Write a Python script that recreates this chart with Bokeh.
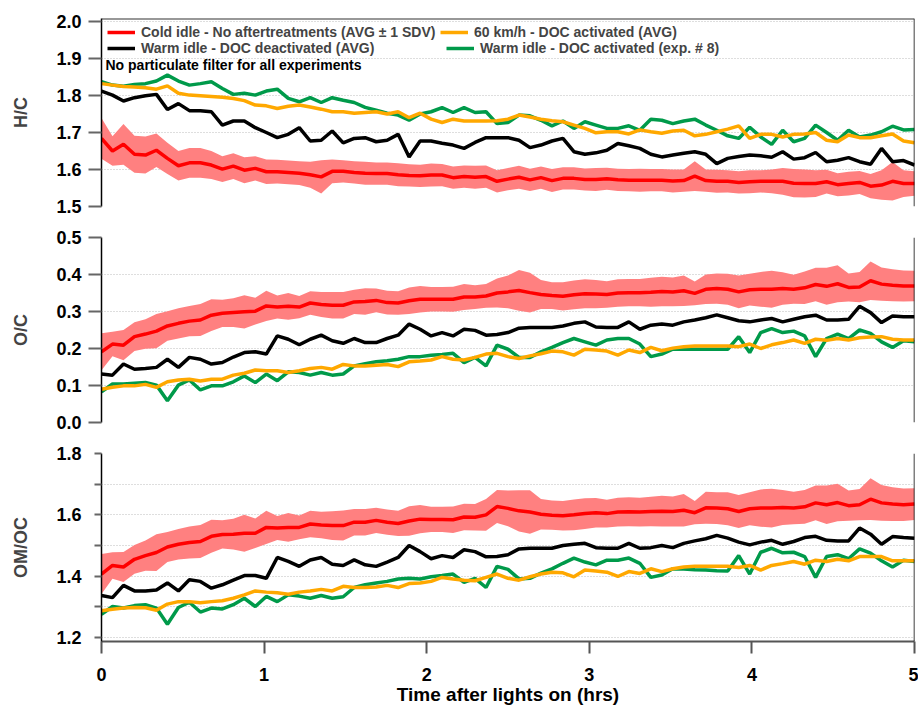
import numpy as np
from bokeh.plotting import figure
from bokeh.models import Range1d, FixedTicker, PrintfTickFormatter, Span, Label, Legend, LegendItem
from bokeh.layouts import column
from bokeh.embed import file_html
from bokeh.resources import INLINE

# ---------------- data ----------------
time_hrs = np.linspace(0, 5, 75)

hc_cold = [1.684,1.650,1.668,1.641,1.639,1.652,1.630,1.610,1.618,1.618,
           1.612,1.601,1.609,1.598,1.603,1.594,1.594,1.592,1.590,1.586,
           1.580,1.595,1.595,1.592,1.590,1.589,1.589,1.586,1.584,1.583,
           1.585,1.585,1.578,1.581,1.579,1.581,1.568,1.574,1.579,1.572,
           1.578,1.570,1.576,1.576,1.573,1.573,1.575,1.572,1.571,1.571,
           1.571,1.571,1.569,1.570,1.582,1.570,1.568,1.568,1.565,1.567,
           1.568,1.568,1.568,1.563,1.562,1.562,1.567,1.559,1.562,1.565,
           1.555,1.558,1.568,1.562,1.562]
hc_cold_sd = [.055,.040,.055,.050,.050,.045,.042,.040,.040,.040,
              .038,.035,.035,.035,.033,.033,.032,.032,.032,.035,
              .045,.032,.030,.030,.031,.030,.030,.031,.030,.030,
              .031,.030,.030,.030,.031,.030,.030,.030,.031,.030,
              .030,.031,.030,.030,.030,.031,.030,.030,.030,.031,
              .030,.030,.031,.030,.040,.030,.031,.030,.030,.031,
              .030,.032,.036,.038,.038,.036,.032,.031,.032,.031,
              .033,.040,.052,.036,.033]
hc_warm_deact = [1.812,1.801,1.785,1.794,1.799,1.803,1.762,1.778,1.759,1.759,
                 1.756,1.720,1.731,1.731,1.713,1.700,1.686,1.695,1.713,1.677,
                 1.679,1.704,1.672,1.684,1.686,1.675,1.679,1.695,1.634,1.677,
                 1.677,1.671,1.666,1.657,1.673,1.686,1.686,1.686,1.679,1.659,
                 1.666,1.677,1.684,1.648,1.641,1.645,1.652,1.670,1.664,1.657,
                 1.641,1.634,1.639,1.644,1.648,1.641,1.616,1.630,1.635,1.639,
                 1.637,1.633,1.648,1.628,1.632,1.646,1.621,1.625,1.632,1.621,
                 1.614,1.657,1.621,1.624,1.612]
hc_60kmh = [1.832,1.828,1.824,1.823,1.821,1.817,1.826,1.806,1.801,1.799,
            1.797,1.795,1.792,1.786,1.774,1.772,1.765,1.771,1.774,1.769,
            1.763,1.756,1.756,1.752,1.754,1.756,1.750,1.756,1.740,1.752,
            1.736,1.727,1.736,1.731,1.731,1.731,1.732,1.736,1.747,1.742,
            1.736,1.732,1.729,1.720,1.711,1.699,1.702,1.702,1.696,1.707,
            1.702,1.698,1.704,1.706,1.691,1.695,1.702,1.709,1.718,1.684,
            1.695,1.695,1.688,1.695,1.696,1.700,1.679,1.675,1.693,1.686,
            1.686,1.691,1.696,1.677,1.672]
hc_warm_act8 = [1.837,1.828,1.825,1.830,1.832,1.839,1.855,1.839,1.828,1.832,
                1.837,1.819,1.803,1.806,1.801,1.812,1.817,1.792,1.783,1.794,
                1.781,1.794,1.787,1.781,1.768,1.760,1.752,1.747,1.733,1.750,
                1.756,1.767,1.754,1.767,1.754,1.756,1.724,1.727,1.747,1.745,
                1.733,1.718,1.731,1.711,1.729,1.720,1.711,1.711,1.718,1.706,
                1.736,1.733,1.724,1.731,1.736,1.720,1.706,1.691,1.684,1.714,
                1.688,1.668,1.706,1.675,1.684,1.720,1.700,1.679,1.706,1.688,
                1.693,1.702,1.717,1.707,1.708]

oc_cold = [0.191,0.212,0.209,0.232,0.239,0.247,0.261,0.268,0.274,0.277,
           0.290,0.295,0.297,0.299,0.301,0.315,0.312,0.314,0.312,0.323,
           0.319,0.317,0.317,0.326,0.327,0.330,0.324,0.323,0.329,0.333,
           0.333,0.333,0.333,0.339,0.339,0.342,0.350,0.353,0.357,0.351,
           0.346,0.343,0.341,0.345,0.348,0.347,0.346,0.350,0.351,0.351,
           0.352,0.354,0.353,0.356,0.349,0.360,0.362,0.360,0.353,0.359,
           0.360,0.360,0.362,0.360,0.364,0.373,0.368,0.375,0.365,0.366,
           0.383,0.374,0.371,0.369,0.369]
oc_cold_sd = [.050,.033,.041,.039,.040,.046,.040,.041,.041,.043,
              .043,.037,.039,.045,.036,.041,.031,.036,.030,.032,
              .034,.036,.036,.033,.036,.032,.032,.032,.036,.036,
              .033,.033,.034,.035,.032,.032,.039,.044,.055,.054,
              .039,.036,.038,.039,.039,.038,.036,.037,.037,.037,
              .039,.040,.039,.041,.032,.040,.041,.042,.044,.043,
              .047,.050,.044,.039,.044,.045,.050,.050,.038,.041,
              .052,.045,.043,.042,.041]
oc_warm_deact = [0.131,0.128,0.158,0.144,0.146,0.149,0.171,0.149,0.176,0.171,
                 0.158,0.162,0.177,0.189,0.191,0.185,0.234,0.225,0.210,0.225,
                 0.236,0.221,0.214,0.227,0.216,0.216,0.227,0.236,0.266,0.252,
                 0.234,0.243,0.234,0.252,0.249,0.236,0.238,0.243,0.255,0.257,
                 0.257,0.257,0.261,0.268,0.272,0.258,0.257,0.257,0.272,0.252,
                 0.263,0.266,0.263,0.272,0.277,0.283,0.291,0.283,0.275,0.272,
                 0.277,0.281,0.272,0.279,0.286,0.290,0.277,0.277,0.279,0.314,
                 0.297,0.270,0.288,0.286,0.286]
oc_60kmh = [0.090,0.095,0.099,0.099,0.103,0.095,0.110,0.115,0.117,0.112,
            0.117,0.117,0.128,0.133,0.142,0.140,0.140,0.135,0.140,0.146,
            0.149,0.144,0.157,0.153,0.153,0.155,0.157,0.151,0.164,0.166,
            0.169,0.178,0.171,0.169,0.176,0.185,0.187,0.178,0.173,0.180,
            0.186,0.193,0.191,0.182,0.198,0.196,0.193,0.182,0.196,0.189,
            0.203,0.194,0.201,0.205,0.207,0.207,0.207,0.207,0.205,0.212,
            0.200,0.210,0.216,0.223,0.214,0.225,0.222,0.227,0.223,0.229,
            0.231,0.232,0.225,0.223,0.223]
oc_warm_act8 = [0.083,0.104,0.104,0.106,0.108,0.101,0.059,0.101,0.115,0.088,
                0.099,0.099,0.110,0.126,0.108,0.131,0.113,0.137,0.135,0.128,
                0.135,0.128,0.131,0.153,0.159,0.164,0.167,0.171,0.178,0.178,
                0.182,0.184,0.187,0.162,0.176,0.153,0.209,0.198,0.176,0.176,
                0.191,0.203,0.216,0.227,0.218,0.209,0.223,0.227,0.227,0.212,
                0.178,0.185,0.198,0.198,0.198,0.198,0.198,0.198,0.232,0.189,
                0.243,0.254,0.243,0.247,0.234,0.178,0.227,0.239,0.227,0.250,
                0.241,0.218,0.203,0.221,0.218]

omoc_cold = [1.407,1.435,1.430,1.455,1.467,1.477,1.495,1.504,1.510,1.513,
             1.530,1.536,1.537,1.540,1.540,1.559,1.557,1.559,1.559,1.570,
             1.567,1.565,1.565,1.576,1.576,1.582,1.576,1.572,1.580,1.586,
             1.585,1.585,1.584,1.593,1.592,1.600,1.627,1.621,1.613,1.609,
             1.602,1.599,1.597,1.600,1.604,1.607,1.604,1.609,1.610,1.609,
             1.611,1.612,1.611,1.615,1.607,1.623,1.622,1.620,1.611,1.620,
             1.622,1.622,1.624,1.622,1.626,1.639,1.633,1.640,1.630,1.633,
             1.651,1.639,1.635,1.633,1.635]
omoc_cold_sd = [.065,.043,.049,.047,.049,.060,.049,.050,.052,.054,
                .054,.046,.050,.060,.048,.054,.039,.047,.039,.043,
                .043,.047,.049,.043,.043,.041,.041,.041,.048,.046,
                .041,.041,.043,.043,.043,.052,.054,.058,.067,.071,
                .050,.048,.048,.050,.050,.048,.045,.047,.047,.047,
                .048,.050,.049,.053,.038,.052,.052,.054,.054,.054,
                .061,.063,.057,.053,.055,.057,.063,.061,.049,.051,
                .068,.058,.055,.053,.052]
omoc_warm_deact = [1.337,1.330,1.370,1.352,1.352,1.355,1.378,1.352,1.388,1.383,
                   1.361,1.372,1.387,1.402,1.402,1.393,1.461,1.448,1.432,1.453,
                   1.461,1.439,1.435,1.453,1.437,1.432,1.446,1.461,1.500,1.480,
                   1.457,1.467,1.461,1.486,1.480,1.463,1.464,1.470,1.489,1.491,
                   1.491,1.491,1.500,1.504,1.507,1.493,1.491,1.491,1.507,1.491,
                   1.493,1.500,1.493,1.507,1.515,1.522,1.533,1.524,1.511,1.502,
                   1.511,1.517,1.504,1.513,1.526,1.530,1.517,1.515,1.515,1.557,
                   1.537,1.504,1.529,1.526,1.524]
omoc_60kmh = [1.287,1.292,1.296,1.298,1.297,1.289,1.309,1.317,1.317,1.313,
              1.317,1.320,1.328,1.339,1.352,1.348,1.346,1.341,1.348,1.352,
              1.357,1.352,1.367,1.363,1.363,1.365,1.370,1.363,1.376,1.378,
              1.383,1.396,1.391,1.387,1.385,1.396,1.407,1.393,1.387,1.398,
              1.407,1.413,1.411,1.398,1.420,1.417,1.413,1.399,1.415,1.409,
              1.424,1.415,1.424,1.430,1.432,1.432,1.432,1.432,1.428,1.435,
              1.420,1.435,1.441,1.448,1.439,1.452,1.448,1.455,1.450,1.464,
              1.464,1.464,1.450,1.450,1.450]
omoc_warm_act8 = [1.276,1.301,1.296,1.304,1.307,1.296,1.243,1.298,1.315,1.283,
                  1.296,1.293,1.307,1.328,1.301,1.334,1.317,1.339,1.335,1.328,
                  1.337,1.328,1.333,1.363,1.372,1.378,1.383,1.391,1.393,1.391,
                  1.398,1.402,1.407,1.380,1.393,1.363,1.432,1.422,1.391,1.393,
                  1.410,1.424,1.442,1.459,1.446,1.437,1.452,1.452,1.459,1.442,
                  1.396,1.404,1.424,1.423,1.421,1.420,1.418,1.417,1.467,1.407,
                  1.478,1.491,1.476,1.478,1.464,1.396,1.464,1.470,1.457,1.489,
                  1.475,1.450,1.430,1.452,1.448]

x_ticks = [0, 1, 2, 3, 4, 5]
legend_labels = ["Cold idle - No aftertreatments (AVG \u00b1 1 SDV)",
                 "Warm idle - DOC deactivated (AVG)",
                 "60 km/h - DOC activated (AVG)",
                 "Warm idle - DOC activated (exp. # 8)"]
note_text = "No particulate filter for all experiments"
x_title = "Time after lights on (hrs)"

# ---------------- style ----------------
FONT = "Liberation Sans"
RED, BAND, BLACK, ORANGE, GREEN = "#FF0000", "#FF8080", "#000000", "#FFA800", "#009A4A"
LW = 3.5
W = 918
xr = Range1d(0, 5)


def make_panel(height, y0, y1, ticks, minor, label, top, bottom, tick_out, lab_stand, xaxis=False):
    p = figure(width=W, height=height, x_range=xr, y_range=Range1d(y0, y1),
               output_backend="svg", toolbar_location=None, tools="",
               min_border_left=101, min_border_right=4,
               min_border_top=top, min_border_bottom=bottom,
               x_axis_location="below" if xaxis else None,
               outline_line_color=None, background_fill_color="white")
    p.title.visible = False
    ya = p.yaxis[0]
    ya.ticker = FixedTicker(ticks=ticks, minor_ticks=minor)
    ya.formatter = PrintfTickFormatter(format="%.1f")
    ya.axis_label = label
    ya.axis_label_text_font = FONT
    ya.axis_label_text_font_style = "bold"
    ya.axis_label_text_font_size = "18px"
    ya.axis_label_standoff = 22
    ya.major_label_text_font = FONT
    ya.major_label_text_font_style = "bold"
    ya.major_label_text_font_size = "18px"
    ya.major_label_text_color = "black"
    ya.major_label_standoff = lab_stand
    ya.axis_line_color = "black"
    ya.axis_line_width = 1.5
    ya.major_tick_line_color = "#666666"
    ya.major_tick_line_width = 2
    ya.major_tick_out = tick_out
    ya.major_tick_in = 0
    ya.minor_tick_line_color = "#666666"
    ya.minor_tick_line_width = 2
    ya.minor_tick_out = tick_out
    ya.minor_tick_in = 0
    p.xgrid.visible = False
    p.ygrid.grid_line_color = "#BDBDBD"
    p.ygrid.grid_line_dash = "1 2"
    p.ygrid.grid_line_width = 1
    if minor:
        p.ygrid.minor_grid_line_color = "#BDBDBD"
        p.ygrid.minor_grid_line_dash = "1 2"
        p.ygrid.minor_grid_line_width = 1
    p.add_layout(Span(location=5, dimension="height", line_color="black", line_width=1.5))
    if xaxis:
        xa = p.xaxis[0]
        xa.ticker = FixedTicker(ticks=x_ticks)
        xa.axis_line_color = "#555555"
        xa.axis_line_width = 2
        xa.major_tick_line_color = "#555555"
        xa.major_tick_line_width = 2
        xa.major_tick_out = 12
        xa.major_tick_in = 0
        xa.minor_tick_line_color = None
        xa.major_label_standoff = 14
        xa.major_label_text_font = FONT
        xa.major_label_text_font_style = "bold"
        xa.major_label_text_font_size = "18px"
        xa.major_label_text_color = "black"
        xa.axis_label = x_title
        xa.axis_label_text_font = FONT
        xa.axis_label_text_font_style = "bold"
        xa.axis_label_text_font_size = "19px"
        xa.axis_label_text_color = "black"
        xa.axis_label_standoff = 0
    return p


def draw(p, cold, sd, deact, kmh, act8):
    lo = np.array(cold) - np.array(sd)
    hi = np.array(cold) + np.array(sd)
    p.varea(x=time_hrs, y1=lo, y2=hi, fill_color=BAND, fill_alpha=1.0)
    r_red = p.line(time_hrs, cold, line_color=RED, line_width=LW)
    r_grn = p.line(time_hrs, act8, line_color=GREEN, line_width=LW)
    r_blk = p.line(time_hrs, deact, line_color=BLACK, line_width=LW)
    r_org = p.line(time_hrs, kmh, line_color=ORANGE, line_width=LW)
    return r_red, r_blk, r_org, r_grn


HC_TOP = 2.008
p1 = make_panel(222, 1.5, HC_TOP, [1.5, 1.6, 1.7, 1.8, 1.9, 2.0], [], "H/C", 18, 16, 13, 7)
p2 = make_panel(216, 0.0, 0.5, [0.0, 0.1, 0.2, 0.3, 0.4, 0.5], [], "O/C", 15, 16, 13, 7)
p3 = make_panel(269, 1.187, 1.8, [1.2, 1.4, 1.6, 1.8], [1.3, 1.5, 1.7], "OM/OC", 15, 66, 7, 13, xaxis=True)

rs = draw(p1, hc_cold, hc_cold_sd, hc_warm_deact, hc_60kmh, hc_warm_act8)
draw(p2, oc_cold, oc_cold_sd, oc_warm_deact, oc_60kmh, oc_warm_act8)
draw(p3, omoc_cold, omoc_cold_sd, omoc_warm_deact, omoc_60kmh, omoc_warm_act8)

p1.add_layout(Span(location=HC_TOP, dimension="width", line_color="#333333", line_width=2))

# one single-entry legend per entry, placed in a 2 x 2 arrangement (screen px from frame bottom-left)
leg_pos = [(6, 166), (6, 150), (339, 166), (345, 150)]
for i in range(4):
    lg = Legend(items=[LegendItem(label=legend_labels[i], renderers=[rs[i]])],
                location=leg_pos[i],
                label_text_font=FONT, label_text_font_style="bold", label_text_font_size="14px",
                glyph_width=28, glyph_height=16, label_height=16, label_standoff=6,
                spacing=0, padding=0, margin=0, border_line_color=None,
                background_fill_alpha=0)
    p1.add_layout(lg)

p1.add_layout(Label(x=4, y=142, x_units="screen", y_units="screen", text=note_text,
                    text_font=FONT, text_font_style="bold", text_font_size="14px",
                    text_baseline="middle", text_align="left", text_color="black"))

layout = column(p1, p2, p3)
open("out.html", "w").write(file_html(layout, INLINE))
